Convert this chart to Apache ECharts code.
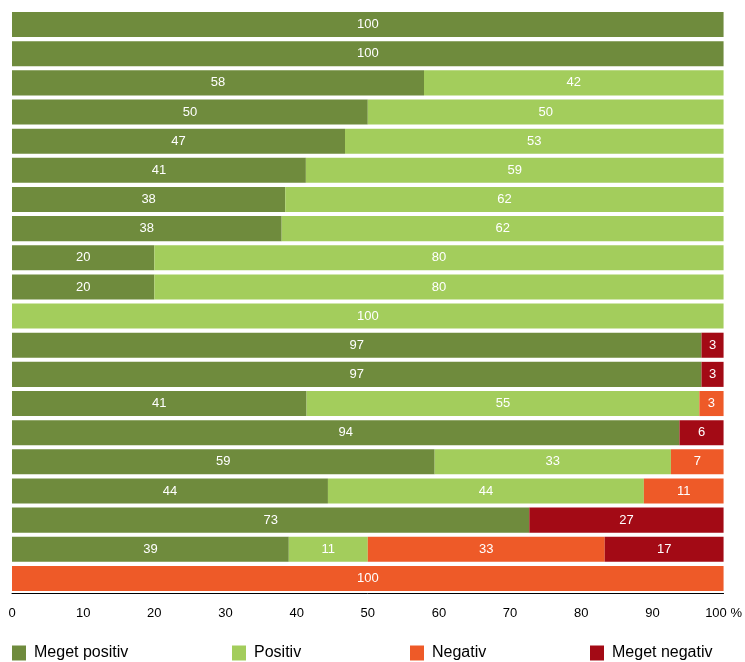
<!DOCTYPE html>
<html>
<head>
<meta charset="utf-8">
<script src="https://cdn.jsdelivr.net/npm/echarts@6/dist/echarts.min.js"></script>
<style>html,body{margin:0;padding:0;background:#fff}#c{width:745px;height:662px}</style>
</head>
<body>
<div id="c"></div>
<script>
const categories = ['R1','R2','R3','R4','R5','R6','R7','R8','R9','R10','R11','R12','R13','R14','R15','R16','R17','R18','R19','R20'];
const megetPositiv = [100,100,57.9,50,46.8,41.3,38.4,37.9,20,20,0,96.9,96.9,41.4,93.8,59.4,44.4,72.7,38.9,0];
const positiv      = [0,0,42.1,50,53.2,58.7,61.6,62.1,80,80,100,0,0,55.2,0,33.2,44.4,0,11.1,0];
const negativ      = [0,0,0,0,0,0,0,0,0,0,0,0,0,3.4,0,7.4,11.2,0,33.3,100];
const megetNegativ = [0,0,0,0,0,0,0,0,0,0,0,3.1,3.1,0,6.2,0,0,27.3,16.7,0];
const xTicks = ['0','10','20','30','40','50','60','70','80','90','100 %'];

const names = ['Meget positiv','Positiv','Negativ','Meget negativ'];
const colors = ['#6f8b3d','#a3cd5c','#ee5a28','#a30a15'];
const datas = [megetPositiv, positiv, negativ, megetNegativ];

const chart = echarts.init(document.getElementById('c'));
const series = names.map((n,i)=>({
  name:n, type:'bar', stack:'s', data:datas[i], barCategoryGap:'14%',
  itemStyle:{color:colors[i], opacity:1},
  label:{show:true, position:'inside', color:'#fff', fontFamily:'Liberation Sans', fontSize:13,
    formatter:p=>p.value>0?Math.round(p.value):''}
}));
const legendX = [12,232,410,590];
chart.setOption({
  animation:false,
  grid:{left:12,right:21,top:10,bottom:69},
  xAxis:{type:'value',min:0,max:100,interval:10,
    axisLine:{show:true,lineStyle:{color:'#000'}},
    axisTick:{show:false},
    splitLine:{show:false},
    axisLabel:{margin:14,color:'#000',fontFamily:'Liberation Sans',fontSize:13,
      formatter:(v)=>xTicks[Math.round(v/10)]}},
  yAxis:{type:'category',data:categories,inverse:true,
    axisLine:{show:false},axisTick:{show:false},axisLabel:{show:false}},
  legend: names.map((n,i)=>({data:[n],left:legendX[i],top:645,padding:0,itemWidth:14,itemHeight:15,
    icon:'rect',textStyle:{fontFamily:'Liberation Sans',fontSize:16,color:'#000',padding:[0,0,0,3]}})),
  series
});
</script>
</body>
</html>
